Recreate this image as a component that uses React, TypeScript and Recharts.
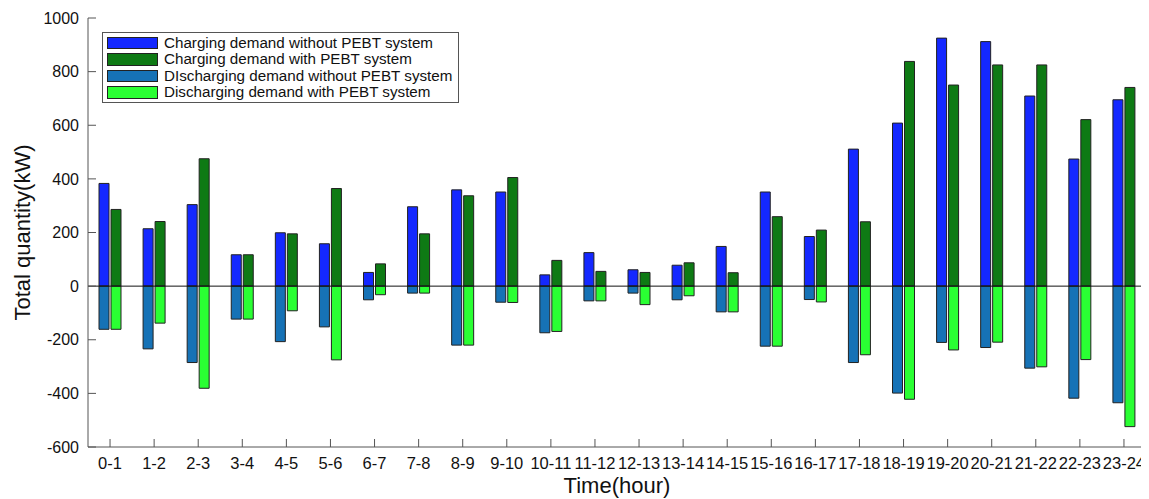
import React from 'react';
import { BarChart, Bar, XAxis, YAxis, ReferenceLine, Legend, Label } from 'recharts';

const categories = ['0-1','1-2','2-3','3-4','4-5','5-6','6-7','7-8','8-9','9-10','10-11','11-12','12-13','13-14','14-15','15-16','16-17','17-18','18-19','19-20','20-21','21-22','22-23','23-24'];
const chargeWithout = [383, 214, 304, 117, 199, 158, 51, 296, 359, 351, 42, 125, 61, 78, 148, 351, 185, 511, 608, 925, 912, 709, 474, 695];
const chargeWith = [286, 241, 475, 117, 195, 364, 83, 195, 337, 405, 96, 55, 51, 87, 50, 259, 209, 240, 838, 750, 825, 825, 621, 741];
const dischargeWithout = [-161, -234, -285, -123, -207, -152, -51, -26, -220, -60, -174, -55, -26, -51, -96, -224, -50, -285, -399, -210, -229, -306, -418, -435];
const dischargeWith = [-161, -138, -381, -123, -92, -275, -32, -26, -220, -61, -169, -55, -69, -36, -96, -224, -59, -256, -422, -238, -209, -301, -274, -524];
const yTicks = [-600, -400, -200, 0, 200, 400, 600, 800, 1000];

const seriesNames = [
  'Charging demand without PEBT system',
  'Charging demand with PEBT system',
  'DIscharging demand without PEBT system',
  'Discharging demand with PEBT system',
];
const seriesColors = ['#1428ff', '#0e7a14', '#1672b6', '#2aff33'];

const data = categories.map((c, i) => ({
  cat: c,
  cwo: chargeWithout[i],
  cw: chargeWith[i],
  dwo: dischargeWithout[i],
  dw: dischargeWith[i],
}));

const FONT = '"Liberation Sans", Arial, Helvetica, sans-serif';
const AXIS = '#555';

const LegendBox = () => (
  <div
    style={{
      boxSizing: 'border-box',
      width: 357,
      height: 71,
      border: `1px solid ${AXIS}`,
      background: '#fff',
      padding: '1.5px 4px',
      fontFamily: FONT,
      fontSize: 15.2,
      color: '#111',
    }}
  >
    {seriesNames.map((n, i) => (
      <div key={n} style={{ display: 'flex', alignItems: 'center', height: 16.5, whiteSpace: 'nowrap' }}>
        <span
          style={{
            display: 'inline-block',
            boxSizing: 'border-box',
            width: 51,
            height: 12.5,
            background: seriesColors[i],
            border: '1px solid #222',
            marginRight: 6,
            flex: 'none',
          }}
        />
        <span style={{ lineHeight: '16.5px' }}>{n}</span>
      </div>
    ))}
  </div>
);

const YTitle = (props: any) => {
  const vb = props.viewBox || {};
  const cx = (vb.x ?? 0) + 14;
  const cy = (vb.y ?? 0) + (vb.height ?? 0) / 2;
  return (
    <text
      x={cx}
      y={cy}
      transform={`rotate(-90 ${cx} ${cy})`}
      textAnchor="middle"
      dominantBaseline="central"
      fontFamily={FONT}
      fontSize={22}
      fill="#111"
    >
      Total quantity(kW)
    </text>
  );
};

const XTitle = (props: any) => {
  const vb = props.viewBox || {};
  const cx = (vb.x ?? 0) + (vb.width ?? 0) / 2;
  const by = (vb.y ?? 0) + 46;
  return (
    <text x={cx} y={by} textAnchor="middle" fontFamily={FONT} fontSize={22} fill="#111">
      Time(hour)
    </text>
  );
};

export default function App() {
  const xTickStyle = { fontFamily: FONT, fontSize: 16.5, fill: '#111' };
  const yTickStyle = { fontFamily: FONT, fontSize: 16, fill: '#111' };
  return (
    <div style={{ width: 1141, height: 491, background: '#fff' }}>
      <BarChart
        width={1141}
        height={491}
        data={data}
        stackOffset="sign"
        margin={{ top: 10, right: 3, left: 0, bottom: 0 }}
        barSize={10}
        barGap={2}
      >
        <XAxis
          xAxisId="bottom"
          dataKey="cat"
          orientation="bottom"
          height={52}
          interval={0}
          tickSize={-8}
          tickMargin={18}
          tick={xTickStyle}
          axisLine={{ stroke: AXIS }}
          tickLine={{ stroke: AXIS }}
        >
          <Label content={<XTitle />} />
        </XAxis>
        <XAxis
          xAxisId="top"
          dataKey="cat"
          orientation="top"
          height={0}
          interval={0}
          tickSize={-8}
          tick={false}
          axisLine={{ stroke: AXIS }}
          tickLine={{ stroke: AXIS }}
        />
        <YAxis
          yAxisId="left"
          width={80}
          domain={[-600, 1000]}
          ticks={yTicks}
          interval={0}
          tickSize={-8}
          tickMargin={17}
          tick={yTickStyle}
          axisLine={{ stroke: AXIS }}
          tickLine={{ stroke: AXIS }}
        >
          <Label content={<YTitle />} />
        </YAxis>
        <YAxis
          yAxisId="right"
          orientation="right"
          width={0}
          domain={[-600, 1000]}
          ticks={yTicks}
          interval={0}
          tickSize={-8}
          tick={false}
          axisLine={{ stroke: AXIS }}
          tickLine={{ stroke: AXIS }}
        />
        <Legend
          layout="horizontal"
          align="center"
          verticalAlign="middle"
          content={<LegendBox />}
          wrapperStyle={{ left: 94, top: 24, width: 357, height: 71 }}
        />
        <Bar xAxisId="bottom" yAxisId="left" dataKey="cwo" name={seriesNames[0]} stackId="without" fill={seriesColors[0]} stroke="#222" strokeWidth={1} isAnimationActive={false} />
        <Bar xAxisId="bottom" yAxisId="left" dataKey="cw" name={seriesNames[1]} stackId="with" fill={seriesColors[1]} stroke="#222" strokeWidth={1} isAnimationActive={false} />
        <Bar xAxisId="bottom" yAxisId="left" dataKey="dwo" name={seriesNames[2]} stackId="without" fill={seriesColors[2]} stroke="#222" strokeWidth={1} isAnimationActive={false} />
        <Bar xAxisId="bottom" yAxisId="left" dataKey="dw" name={seriesNames[3]} stackId="with" fill={seriesColors[3]} stroke="#222" strokeWidth={1} isAnimationActive={false} />
        <ReferenceLine xAxisId="bottom" yAxisId="left" y={0} stroke="#111" strokeWidth={1} />
      </BarChart>
    </div>
  );
}
